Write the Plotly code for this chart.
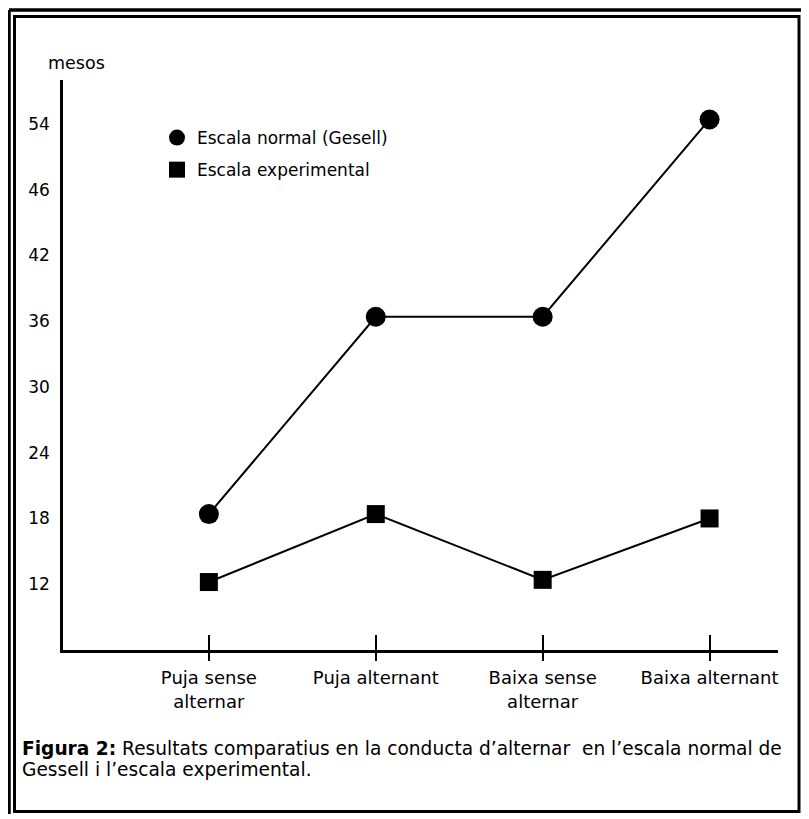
import plotly.graph_objects as go

categories = ["Puja sense<br>alternar", "Puja alternant", "Baixa sense<br>alternar", "Baixa alternant"]
gesell = [18.4, 36.4, 36.4, 54.4]
experimental = [12.2, 18.4, 12.4, 18.0]
ytick_vals = [12, 18, 24, 30, 36, 42, 48, 54]
ytick_text = ["12", "18", "24", "30", "36", "42", "46", "54"]
name_gesell = "Escala normal (Gesell)"
name_exp = "Escala experimental"

FONT = "DejaVu Sans, Verdana, sans-serif"
# page has an 8px body margin: figure drawn 8px right/down
OFF = 8
W, H = 793, 806
# plot area in reference (screen) pixels
PX0, PX1, PY0, PY1 = 63, 778, 80, 650
L, R = PX0 - OFF, W - (PX1 - OFF)
T, B = PY0 - OFF, H - (PY1 - OFF)


def px(x):
    return (x - PX0) / (PX1 - PX0)


def py(y):
    return (PY1 - y) / (PY1 - PY0)


fig = go.Figure()
fig.add_trace(go.Scatter(x=categories, y=gesell, mode="lines+markers",
                         line=dict(color="black", width=2),
                         marker=dict(symbol="circle", size=20, color="black"),
                         showlegend=False))
fig.add_trace(go.Scatter(x=categories, y=experimental, mode="lines+markers",
                         line=dict(color="black", width=2),
                         marker=dict(symbol="square", size=18, color="black"),
                         showlegend=False))
# legend entries (markers only)
fig.add_trace(go.Scatter(x=[None], y=[None], mode="markers", name=name_gesell,
                         marker=dict(symbol="circle", size=20, color="black"),
                         legendgroup="a"))
fig.add_trace(go.Scatter(x=[None], y=[None], mode="markers", name=name_exp,
                         marker=dict(symbol="square", size=16, color="black"),
                         legendgroup="b"))
# overlay axis for the upward part of the tick marks
fig.add_trace(go.Scatter(x=categories, y=gesell, xaxis="x2", mode="markers",
                         marker=dict(opacity=0), showlegend=False, hoverinfo="skip"))

xr = [-0.874, 3.41]
fig.update_layout(
    width=W, height=H,
    margin=dict(l=L, r=R, t=T, b=B),
    paper_bgcolor="white", plot_bgcolor="white",
    font=dict(family=FONT, size=17, color="black"),
    xaxis=dict(type="category", categoryarray=categories, range=xr,
               showgrid=False, zeroline=False, showline=True, linecolor="black",
               linewidth=2.5, ticks="outside", ticklen=8, tickwidth=2,
               tickcolor="black", tickfont=dict(size=18), ticklabelstandoff=2),
    xaxis2=dict(type="category", categoryarray=categories, range=xr,
                overlaying="x", anchor="y", side="bottom",
                showgrid=False, zeroline=False, showline=False,
                ticks="inside", ticklen=15, tickwidth=2, tickcolor="black",
                showticklabels=False),
    yaxis=dict(range=[6, 58], tickvals=ytick_vals, ticktext=ytick_text,
               showgrid=False, zeroline=False, showline=True, linecolor="black",
               linewidth=2.5, ticks="", ticklabelstandoff=7,
               tickfont=dict(size=17)),
    legend=dict(x=px(157), y=py(120), xanchor="left", yanchor="top",
                font=dict(size=17), tracegroupgap=7, traceorder="grouped",
                bgcolor="rgba(0,0,0,0)", itemsizing="trace"),
    showlegend=True,
)

fig.add_annotation(text="mesos", xref="paper", yref="paper",
                   x=px(76), y=py(63),
                   showarrow=False, font=dict(size=17.5), xanchor="center", yanchor="middle")

caption_lines = ["<b>Figura 2:</b> Resultats comparatius en la conducta d’alternar  en l’escala normal de",
                 "Gessell i l’escala experimental."]
for line, yy in zip(caption_lines, [748, 769]):
    fig.add_annotation(text=line, xref="paper", yref="paper",
                       x=px(20), y=py(yy),
                       showarrow=False, align="left", xanchor="left", yanchor="middle",
                       font=dict(size=18.6))

# page frame (double border)
fig.add_shape(type="line", xref="paper", yref="paper",
              x0=px(9), x1=px(812), y0=py(10), y1=py(10),
              line=dict(color="black", width=3.5))
fig.add_shape(type="line", xref="paper", yref="paper",
              x0=px(9), x1=px(9), y0=py(10), y1=py(822),
              line=dict(color="black", width=3.5))
fig.add_shape(type="rect", xref="paper", yref="paper",
              x0=px(14.5), x1=px(799), y0=py(16.5), y1=py(811.5),
              line=dict(color="black", width=3))

fig.write_html("out.html")
